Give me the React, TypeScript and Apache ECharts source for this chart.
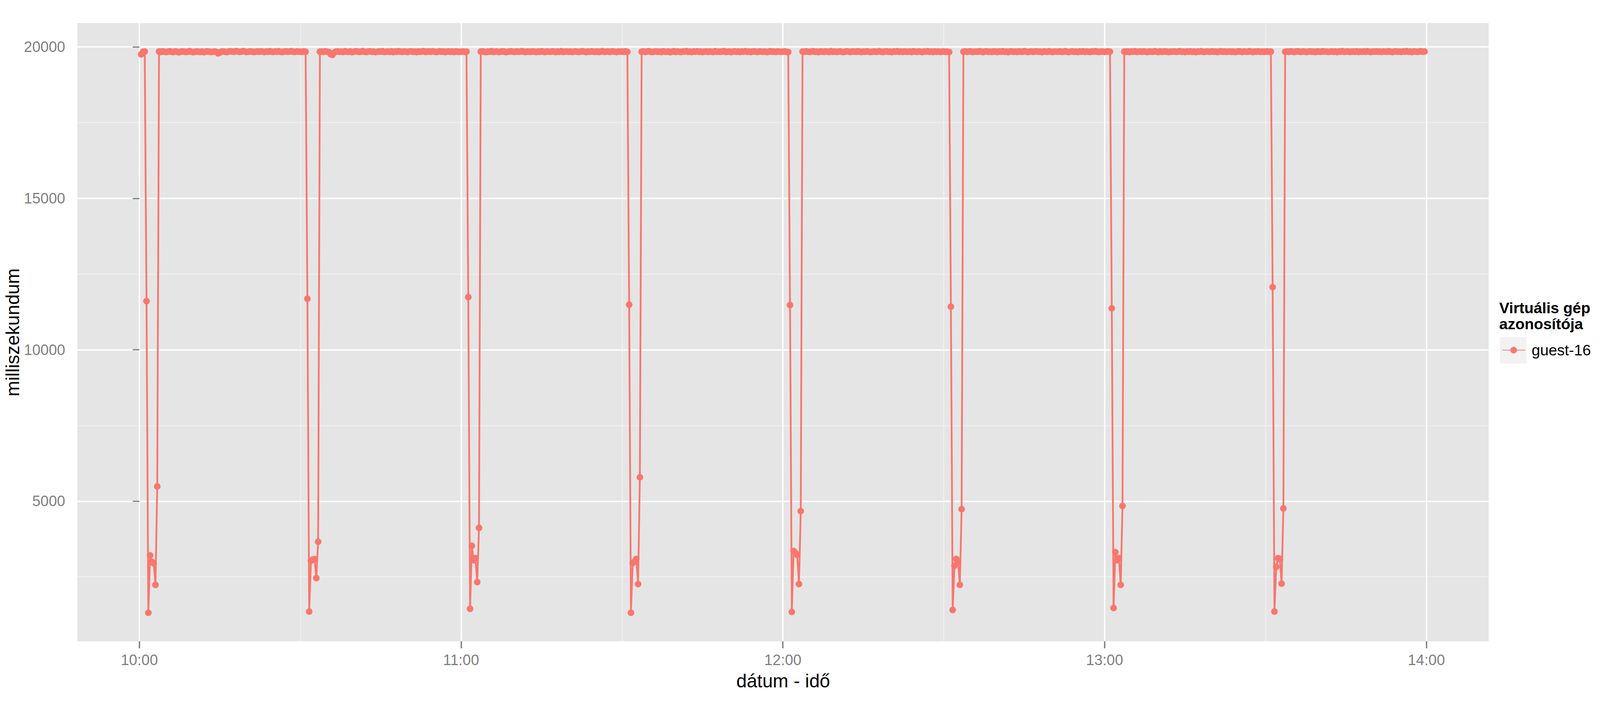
import React, { useEffect, useRef } from 'react';
import * as echarts from 'echarts';
import type { EChartsOption } from 'echarts';

const FONT = '"Liberation Sans", Arial, sans-serif';
const RED = '#F8766D';

// mérés 20 másodpercenként, 10:00-tól
const SAMPLE_SECONDS = 20;
const SAMPLES_PER_HALF_HOUR = 90;

const xTickValues = [0, 3600, 7200, 10800, 14400];
const xTickLabels = ['10:00', '11:00', '12:00', '13:00', '14:00'];
const yTickValues = [5000, 10000, 15000, 20000];

// a félórás ciklusok eleje (a visszaesés előtt)
const plateauBefore: number[][] = [
  [19753, 19838, 19845],
  [19842, 19835, 19848, 19839],
  [19840, 19847, 19833, 19844],
  [19846, 19838, 19851, 19835],
  [19843, 19850, 19837, 19829],
  [19848, 19835, 19842, 19830],
  [19836, 19845, 19851, 19840],
  [19841, 19849, 19836, 19843],
];

// visszaesés minden félóra elején (:01:20 - :03:20)
const dipValues: number[][] = [
  [11605, 1316, 3211, 3000, 2950, 2237, 5487],
  [11684, 1355, 3030, 3070, 3090, 2461, 3658],
  [11737, 1447, 3526, 3050, 3120, 2329, 4118],
  [11487, 1316, 2961, 3010, 3092, 2263, 5790],
  [11474, 1342, 3355, 3290, 3224, 2263, 4671],
  [11421, 1408, 2868, 3092, 3000, 2237, 4737],
  [11368, 1474, 3316, 3050, 3120, 2237, 4842],
  [12066, 1355, 2829, 3118, 3092, 2276, 4763],
];

// a ciklus többi része
const plateauAfter: number[][] = [
  [
    19846, 19832, 19851, 19840, 19828, 19843, 19855, 19837, 19829, 19848,
    19841, 19822, 19836, 19850, 19844, 19831, 19839, 19858, 19842, 19827,
    19835, 19849, 19840, 19833, 19845, 19826, 19838, 19852, 19843, 19830,
    19837, 19846, 19834, 19787, 19812, 19841, 19850, 19836, 19829, 19847,
    19855, 19843, 19838, 19860, 19849, 19834, 19842, 19857, 19846, 19831,
    19839, 19853, 19844, 19829, 19840, 19848, 19836, 19852, 19843, 19830,
    19847, 19838, 19856, 19842, 19833, 19849, 19840, 19854, 19837, 19828,
    19845, 19851, 19839, 19846, 19858, 19841, 19835, 19849, 19843,
  ],
  [
    19838, 19846, 19833, 19851, 19840, 19829, 19760, 19735, 19812, 19843,
    19850, 19837, 19844, 19831, 19855, 19842, 19836, 19848, 19827, 19840,
    19853, 19845, 19834, 19841, 19857, 19838, 19830, 19846, 19852, 19839,
    19844, 19828, 19836, 19849, 19843, 19855, 19832, 19840, 19847, 19836,
    19851, 19829, 19845, 19838, 19856, 19842, 19834, 19848, 19841, 19830,
    19846, 19853, 19837, 19843, 19828, 19850, 19839, 19845, 19857, 19833,
    19841, 19848, 19836, 19852, 19844, 19831, 19840, 19854, 19838, 19846,
    19829, 19843, 19850, 19837, 19845, 19832, 19849, 19841, 19836,
  ],
  [
    19843, 19851, 19836, 19829, 19845, 19840, 19857, 19834, 19842, 19848,
    19831, 19839, 19853, 19845, 19827, 19838, 19846, 19852, 19840, 19833,
    19849, 19836, 19844, 19858, 19841, 19830, 19847, 19839, 19835, 19850,
    19843, 19828, 19845, 19837, 19854, 19842, 19831, 19848, 19840, 19836,
    19852, 19844, 19829, 19846, 19839, 19856, 19833, 19841, 19849, 19837,
    19845, 19830, 19843, 19851, 19838, 19834, 19847, 19855, 19840, 19828,
    19846, 19839, 19853, 19842, 19835, 19848, 19831, 19844, 19857, 19836,
    19841, 19849, 19833, 19845, 19852, 19838, 19830, 19847, 19843,
  ],
  [
    19840, 19848, 19833, 19845, 19856, 19837, 19829, 19843, 19850, 19836,
    19844, 19831, 19852, 19840, 19838, 19847, 19826, 19841, 19855, 19834,
    19846, 19839, 19832, 19849, 19843, 19857, 19836, 19842, 19830, 19848,
    19840, 19853, 19837, 19845, 19828, 19841, 19850, 19835, 19846, 19842,
    19831, 19854, 19839, 19844, 19836, 19849, 19858, 19833, 19840, 19847,
    19829, 19843, 19851, 19838, 19845, 19832, 19848, 19840, 19855, 19836,
    19842, 19830, 19846, 19852, 19839, 19834, 19850, 19843, 19837, 19845,
    19828, 19841, 19856, 19838, 19847, 19833, 19849, 19842, 19836,
  ],
  [
    19845, 19838, 19852, 19840, 19833, 19847, 19855, 19836, 19842, 19829,
    19848, 19841, 19835, 19850, 19844, 19830, 19857, 19839, 19846, 19833,
    19842, 19851, 19837, 19828, 19845, 19853, 19840, 19834, 19848, 19843,
    19836, 19856, 19841, 19831, 19847, 19839, 19852, 19844, 19830, 19838,
    19849, 19835, 19843, 19857, 19840, 19832, 19846, 19851, 19837, 19842,
    19829, 19848, 19840, 19854, 19836, 19845, 19833, 19850, 19841, 19838,
    19846, 19831, 19853, 19843, 19835, 19849, 19840, 19828, 19847, 19842,
    19855, 19837, 19844, 19832, 19850, 19839, 19846, 19834, 19841,
  ],
  [
    19841, 19849, 19836, 19845, 19853, 19832, 19840, 19847, 19838, 19856,
    19843, 19829, 19846, 19851, 19837, 19842, 19834, 19850, 19845, 19831,
    19848, 19840, 19855, 19836, 19843, 19828, 19847, 19852, 19839, 19844,
    19833, 19850, 19841, 19837, 19857, 19845, 19830, 19842, 19848, 19835,
    19846, 19853, 19838, 19841, 19829, 19849, 19843, 19836, 19854, 19840,
    19832, 19847, 19844, 19838, 19851, 19835, 19842, 19856, 19839, 19830,
    19845, 19850, 19837, 19843, 19828, 19848, 19841, 19853, 19836, 19846,
    19840, 19833, 19849, 19844, 19857, 19838, 19831, 19847, 19842,
  ],
  [
    19844, 19837, 19850, 19829, 19846, 19841, 19855, 19834, 19843, 19848,
    19836, 19852, 19840, 19831, 19847, 19843, 19838, 19856, 19842, 19830,
    19849, 19837, 19845, 19853, 19839, 19828, 19846, 19841, 19850, 19835,
    19843, 19857, 19838, 19844, 19832, 19848, 19840, 19852, 19836, 19845,
    19829, 19847, 19842, 19854, 19838, 19833, 19849, 19843, 19836, 19851,
    19840, 19846, 19830, 19844, 19855, 19839, 19848, 19835, 19842, 19850,
    19837, 19845, 19828, 19841, 19853, 19846, 19834, 19849, 19840, 19838,
    19856, 19843, 19831, 19847, 19841, 19852, 19836, 19844, 19839,
  ],
  [
    19839, 19847, 19835, 19852, 19843, 19830, 19846, 19856, 19840, 19837,
    19849, 19842, 19831, 19845, 19853, 19838, 19844, 19828, 19850, 19841,
    19836, 19855, 19843, 19847, 19833, 19840, 19851, 19838, 19845, 19829,
    19848, 19842, 19857, 19836, 19844, 19850, 19834, 19841, 19846, 19839,
    19853, 19832, 19845, 19840, 19848, 19836, 19855, 19843, 19830, 19847,
    19841, 19852, 19838, 19845, 19834, 19849, 19843, 19837, 19856, 19840,
    19831, 19846, 19851, 19839, 19844, 19835, 19848, 19842, 19857, 19838,
    19845, 19830, 19850, 19843, 19836, 19847, 19854, 19840, 19846,
  ],
];

// [másodperc 10:00 óta, ms] párok
const buildPoints = (): [number, number][] => {
  const points: [number, number][] = [];
  dipValues.forEach((dip, k) => {
    const before = plateauBefore[k];
    const values = [...before, ...dip, ...plateauAfter[k]];
    const first = k * SAMPLES_PER_HALF_HOUR + 4 - before.length;
    values.forEach((v, j) => points.push([(first + j) * SAMPLE_SECONDS, v]));
  });
  return points;
};

const App: React.FC = () => {
  const chartRef = useRef<HTMLDivElement>(null);

  useEffect(() => {
    if (!chartRef.current) return;
    const chart = echarts.init(chartRef.current, undefined, { renderer: 'svg' });

    // az ablak szélességéhez igazított elrendezés
    const W = chartRef.current.clientWidth;
    const panelLeft = 198;
    const panelRight = Math.round((W * 5583) / 6000);
    const panelTop = 59;
    const panelBottom = 1642;
    const legendX = Math.min(Math.round((W * 5645) / 6000), W - 256);

    const option: EChartsOption = {
      animation: false,
      textStyle: { fontFamily: FONT },
      grid: {
        left: panelLeft,
        top: panelTop,
        width: panelRight - panelLeft,
        height: panelBottom - panelTop,
        show: true,
        backgroundColor: '#E5E5E5',
        borderWidth: 0,
      },
      xAxis: {
        type: 'value',
        min: -694,
        max: 15097,
        minInterval: 3600,
        maxInterval: 3600,
        axisLine: { show: false },
        axisTick: {
          show: true,
          length: 18,
          customValues: xTickValues,
          lineStyle: { color: '#7F7F7F', width: 3.5 },
        },
        axisLabel: {
          customValues: xTickValues,
          color: '#7F7F7F',
          fontSize: 38,
          fontFamily: FONT,
          margin: 29,
          formatter: (v: number) => xTickLabels[xTickValues.indexOf(v)] ?? '',
        },
        splitLine: { show: true, lineStyle: { color: '#FFFFFF', width: 3.5 } },
        minorTick: { show: false, splitNumber: 2 },
        minorSplitLine: { show: true, lineStyle: { color: '#F2F2F2', width: 2 } },
      },
      yAxis: {
        type: 'value',
        min: 374,
        max: 20787,
        minInterval: 5000,
        maxInterval: 5000,
        axisLine: { show: false },
        axisTick: {
          show: true,
          length: 17,
          customValues: yTickValues,
          lineStyle: { color: '#7F7F7F', width: 3 },
        },
        axisLabel: {
          customValues: yTickValues,
          color: '#7F7F7F',
          fontSize: 38,
          fontFamily: FONT,
          margin: 31,
          formatter: (v: number) => String(v),
        },
        splitLine: { show: true, lineStyle: { color: '#FFFFFF', width: 3.5 } },
        minorTick: { show: false, splitNumber: 2 },
        minorSplitLine: { show: true, lineStyle: { color: '#F2F2F2', width: 2 } },
      },
      legend: {
        show: true,
        data: ['guest-16'],
        orient: 'vertical',
        left: legendX + 5,
        top: 877,
        padding: 0,
        itemWidth: 58,
        itemHeight: 21,
        selectedMode: false,
        z: 10,
        textStyle: { fontSize: 39, color: '#000000', fontFamily: FONT, padding: [0, 0, 0, 12] },
      },
      graphic: [
        {
          type: 'rect',
          z: 1,
          shape: { x: legendX, y: 863, width: 68, height: 68 },
          style: { fill: '#F2F2F2' },
        },
        {
          type: 'text',
          x: legendX - 2,
          y: 788,
          style: {
            text: 'Virtuális gép',
            fontSize: 39,
            fontWeight: 'bold',
            fontFamily: FONT,
            fill: '#000000',
            align: 'left',
            verticalAlign: 'middle',
          },
        },
        {
          type: 'text',
          x: legendX - 2,
          y: 829,
          style: {
            text: 'azonosítója',
            fontSize: 39,
            fontWeight: 'bold',
            fontFamily: FONT,
            fill: '#000000',
            align: 'left',
            verticalAlign: 'middle',
          },
        },
        {
          type: 'text',
          x: Math.round((panelLeft + panelRight) / 2),
          y: 1743,
          style: {
            text: 'dátum - idő',
            fontSize: 48,
            fontFamily: FONT,
            fill: '#000000',
            align: 'center',
            verticalAlign: 'middle',
          },
        },
        {
          type: 'text',
          x: 32,
          y: Math.round((panelTop + panelBottom) / 2),
          rotation: Math.PI / 2,
          style: {
            text: 'milliszekundum',
            fontSize: 48,
            fontFamily: FONT,
            fill: '#000000',
            align: 'center',
            verticalAlign: 'middle',
          },
        },
      ],
      series: [
        {
          name: 'guest-16',
          type: 'line',
          data: buildPoints(),
          symbol: 'circle',
          symbolSize: 17,
          showSymbol: true,
          color: RED,
          itemStyle: { color: RED },
          lineStyle: { color: RED, width: 4.5 },
          emphasis: { disabled: true },
        },
      ],
    };

    chart.setOption(option);

    return () => {
      chart.dispose();
    };
  }, []);

  return (
    <div
      ref={chartRef}
      style={{ position: 'absolute', left: 0, top: 0, width: '100vw', height: '1800px' }}
    />
  );
};

export default App;
